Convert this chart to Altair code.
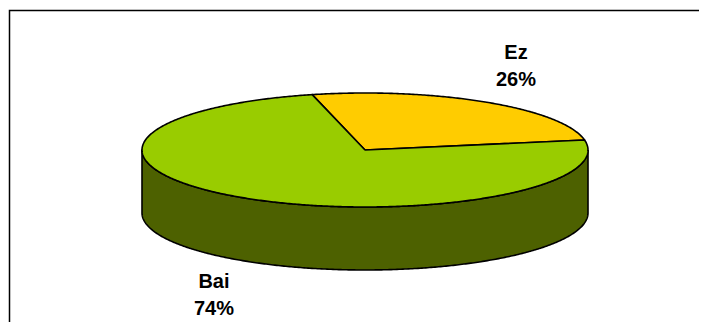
import altair as alt
import numpy as np
import pandas as pd

# ---- data ----
categories = ["Ez", "Bai"]
values = [26, 74]
top_colors = ["#FFCC00", "#99CC00"]
side_colors = ["#806600", "#4D6100"]
start_angle = -13.7          # degrees, clockwise from 12 o'clock
depth = 1.105                # side height, in units of the vertical radius

W, H = 691, 314
total = float(sum(values))

top_rows, side_rows, label_rows = [], [], []
a = start_angle
for k, (cat, v) in enumerate(zip(categories, values)):
    span = v / total * 360.0
    a0, a1 = a, a + span
    a = a1
    # top face polygon
    ts = np.linspace(a0, a1, max(int(span * 2), 2))
    pts = [(0.0, 0.0)] + [(np.sin(np.radians(t)), np.cos(np.radians(t))) for t in ts] + [(0.0, 0.0)]
    for i, (x, y) in enumerate(pts):
        top_rows.append({"poly": f"top{k}", "i": i, "x": x, "y": y, "fill": top_colors[k]})
    # visible side wall (front half: 90..270 deg)
    for shift in (-360, 0, 360):
        lo, hi = max(a0, 90 + shift), min(a1, 270 + shift)
        if hi > lo:
            tt = np.linspace(lo, hi, max(int((hi - lo) * 2), 2))
            up = [(np.sin(np.radians(t)), np.cos(np.radians(t))) for t in tt]
            dn = [(np.sin(np.radians(t)), np.cos(np.radians(t)) - depth) for t in tt[::-1]]
            ring = up + dn + [up[0]]
            for i, (x, y) in enumerate(ring):
                side_rows.append({"poly": f"side{k}_{shift}", "i": i, "x": x, "y": y, "fill": side_colors[k]})
    mid = np.radians((a0 + a1) / 2)
    ly = 1.74 * np.cos(mid) + 0.24   # first text line sits half a line above block centre
    if np.cos(mid) < 0:
        ly -= depth
    label_rows.append({"x": 1.24 * np.sin(mid), "y": ly,
                       "label": f"{cat}\n{round(v / total * 100)}%"})

top_df = pd.DataFrame(top_rows)
side_df = pd.DataFrame(side_rows)
lab_df = pd.DataFrame(label_rows)

xs = alt.Scale(domain=[-1, 1], range=[134, 580], nice=False, zero=False)
ys = alt.Scale(domain=[-1, 1], range=[199, 85], nice=False, zero=False)

def poly_layer(df):
    return alt.Chart(df).mark_line(stroke="black", strokeWidth=1.6, strokeJoin="round").encode(
        x=alt.X("x:Q", scale=xs, axis=None),
        y=alt.Y("y:Q", scale=ys, axis=None),
        fill=alt.Fill("fill:N", scale=None, legend=None),
        detail="poly:N",
        order="i:Q",
    )

sides = poly_layer(side_df)
tops = poly_layer(top_df)

labels = alt.Chart(lab_df).mark_text(
    font="Liberation Sans", fontWeight="bold", fontSize=20, lineBreak="\n",
    lineHeight=27, align="center", baseline="middle", color="black"
).encode(
    x=alt.X("x:Q", scale=xs, axis=None),
    y=alt.Y("y:Q", scale=ys, axis=None),
    text="label:N",
)

# chart frame: only its top and left edges fall inside the picture
dummy = alt.Data(values=[{}])
frame = alt.Chart(dummy).mark_rect(fill=None, fillOpacity=0, stroke="black", strokeWidth=1.5).encode(
    x=alt.value(1.5), x2=alt.value(W + 40), y=alt.value(2.5), y2=alt.value(H + 40)
)

chart = alt.layer(sides, tops, labels, frame).properties(
    width=W, height=H, padding=0,
    autosize=alt.AutoSizeParams(type="none"),
    background="white",
).configure_view(stroke=None)

chart.save("out.html", embed_options={"renderer": "svg", "actions": False})
